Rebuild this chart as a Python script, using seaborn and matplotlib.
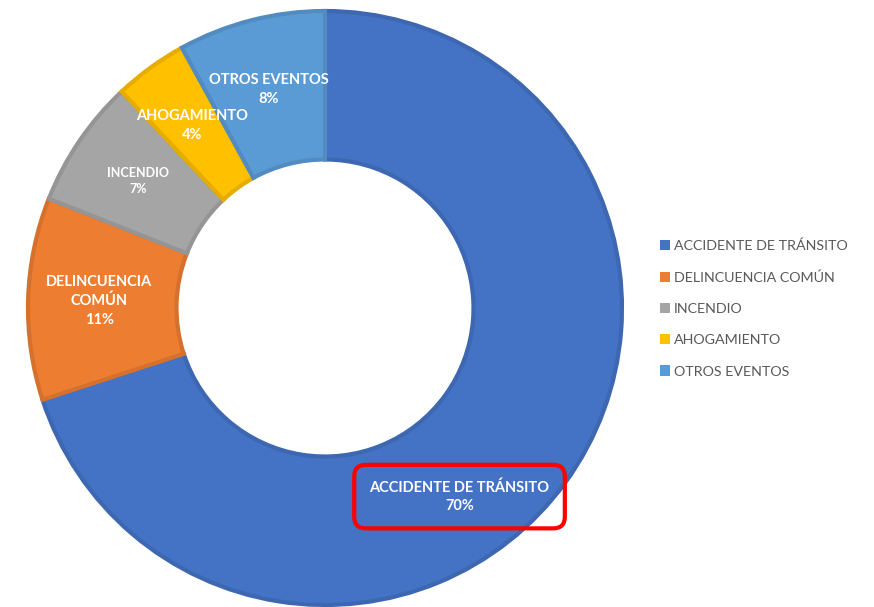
import numpy as np
import matplotlib
matplotlib.use("Agg")
import matplotlib.pyplot as plt
import matplotlib.colors as mcolors
import seaborn as sns

# Data
categorias = ["ACCIDENTE DE TRÁNSITO", "DELINCUENCIA COMÚN", "INCENDIO",
              "AHOGAMIENTO", "OTROS EVENTOS"]
etiquetas = ["ACCIDENTE DE TRÁNSITO", "DELINCUENCIA\nCOMÚN", "INCENDIO",
             "AHOGAMIENTO", "OTROS EVENTOS"]
porcentajes = [70, 11, 7, 4, 8]

sns.set_theme(style="white")
plt.rcParams['font.family'] = ['Lato', 'DejaVu Sans']

colores = sns.color_palette(["#4472C4", "#ED7D31", "#A5A5A5", "#FFC000", "#5B9BD5"])
bordes = [tuple(np.array(mcolors.to_rgb(c)) * 0.9) for c in colores]

fig = plt.figure(figsize=(8.74, 6.07), dpi=100)
ax = fig.add_axes([28 / 874, 2 / 607, 594 / 874, 594 / 607])

wedges, _ = ax.pie(porcentajes, colors=colores, startangle=90, counterclock=False,
                   radius=1.0, wedgeprops=dict(width=0.5, linewidth=3))
for w, b in zip(wedges, bordes):
    w.set_edgecolor(b)
    w.set_linewidth(3)

ax.set_xlim(-1, 1)
ax.set_ylim(-1, 1)
ax.set_aspect('equal')
ax.axis('off')

# label positions along mid-angle (first label shifted, as in reference)
tamanos = [10.5, 10.5, 9, 10.5, 10.5]
inicio = 0.0
for i, (lab, p) in enumerate(zip(etiquetas, porcentajes)):
    medio = inicio + p / 2
    inicio += p
    ang = np.deg2rad(medio * 3.6)
    r = 0.76
    if i == 0:
        ang = np.deg2rad(144.5)
        r = 0.78
    x, y = r * np.sin(ang), r * np.cos(ang)
    txt = f"{lab}\n{p}%"
    kw = {}
    if i == 0:
        kw['bbox'] = dict(boxstyle="round,pad=1.05,rounding_size=0.8", facecolor="none",
                          edgecolor="#FF0000", linewidth=3)
    ax.text(x, y, txt, ha='center', va='center', color='white', fontweight='bold',
            fontsize=tamanos[i], linespacing=1.4, **kw)

leg = fig.legend(wedges, categorias, loc='center left', bbox_to_anchor=(0.74, 0.492),
                 frameon=False, handlelength=0.7, handleheight=0.7, handletextpad=0.3,
                 labelspacing=1.35, fontsize=10.3)
for t in leg.get_texts():
    t.set_color('#595959')
for h in leg.legend_handles:
    h.set_linewidth(0)

fig.savefig("out.png", dpi=100, facecolor='white')
